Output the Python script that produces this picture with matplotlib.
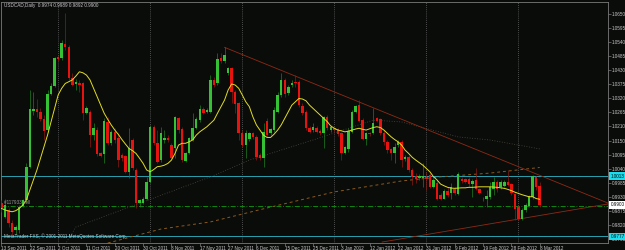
import matplotlib
matplotlib.use("Agg")
import matplotlib.pyplot as plt

plt.rcParams["font.family"] = ["Liberation Sans", "DejaVu Sans"]

# daily USDCAD bars, 13 Sep 2011 .. 8 Mar 2012 (Sunday bars included)
opens = [0.9906, 0.9853, 0.9880, 0.9830, 0.9801, 0.9801, 0.9895, 0.9919, 1.0050, 1.0267,
         1.0277, 1.0266, 1.0236, 1.0194, 1.0336, 1.0367, 1.0482, 1.0476, 1.0532, 1.0522,
         1.0400, 1.0375, 1.0380, 1.0377, 1.0263, 1.0266, 1.0174, 1.0194, 1.0102, 1.0100,
         1.0227, 1.0144, 1.0187, 1.0161, 1.0096, 1.0092, 1.0030, 1.0155, 1.0039, 0.9906,
         0.9908, 0.9925, 0.9991, 1.0207, 1.0142, 1.0076, 1.0155, 1.0164, 1.0135, 1.0122,
         1.0240, 1.0197, 1.0073, 1.0102, 1.0155, 1.0201, 1.0233, 1.0277, 1.0266, 1.0266,
         1.0391, 1.0377, 1.0476, 1.0466, 1.0417, 1.0436, 1.0345, 1.0299, 1.0184, 1.0135,
         1.0157, 1.0181, 1.0168, 1.0096, 1.0083, 1.0231, 1.0181, 1.0194, 1.0266, 1.0332,
         1.0391, 1.0338, 1.0371, 1.0384, 1.0384, 1.0288, 1.0266, 1.0203, 1.0194, 1.0203,
         1.0190, 1.0184, 1.0244, 1.0194, 1.0201, 1.0198, 1.0181, 1.0105, 1.0119, 1.0187,
         1.0266, 1.0292, 1.0233, 1.0157, 1.0181, 1.0181, 1.0240, 1.0236, 1.0181, 1.0148,
         1.0118, 1.0105, 1.0135, 1.0148, 1.0079, 1.0089, 1.0039, 1.0013, 1.0004, 1.0004,
         1.0011, 1.0017, 0.9971, 0.9987, 0.9938, 0.9925, 0.9956, 0.9945, 0.9961, 0.9942,
         1.0002, 1.0000, 1.0000, 0.9982, 0.9998, 0.9961, 0.9922, 0.9923, 0.9932, 0.9961,
         0.9991, 0.9969, 0.9974, 0.9991, 0.9982, 0.9942, 0.9890, 0.9843, 0.9880, 0.9895,
         0.9932, 1.0011, 0.9974]
highs = [0.9919, 0.9925, 0.9886, 0.9840, 0.9821, 0.9899, 0.9925, 1.0063, 1.0351, 1.0345,
         1.0318, 1.0279, 1.0253, 1.0351, 1.0377, 1.0482, 1.0489, 1.0548, 1.0653, 1.0528,
         1.0417, 1.0393, 1.0391, 1.0384, 1.0288, 1.0273, 1.0220, 1.0207, 1.0109, 1.0240,
         1.0246, 1.0194, 1.0201, 1.0181, 1.0102, 1.0096, 1.0201, 1.0161, 1.0043, 0.9925,
         0.9932, 1.0011, 1.0214, 1.0214, 1.0194, 1.0207, 1.0194, 1.0174, 1.0142, 1.0249,
         1.0246, 1.0207, 1.0109, 1.0168, 1.0260, 1.0244, 1.0292, 1.0283, 1.0279, 1.0410,
         1.0404, 1.0495, 1.0495, 1.0519, 1.0443, 1.0443, 1.0351, 1.0305, 1.0194, 1.0194,
         1.0187, 1.0187, 1.0174, 1.0102, 1.0220, 1.0240, 1.0204, 1.0286, 1.0345, 1.0417,
         1.0397, 1.0371, 1.0391, 1.0410, 1.0391, 1.0299, 1.0273, 1.0210, 1.0220, 1.0210,
         1.0197, 1.0249, 1.0253, 1.0214, 1.0207, 1.0204, 1.0187, 1.0131, 1.0201, 1.0273,
         1.0292, 1.0312, 1.0240, 1.0187, 1.0187, 1.0279, 1.0246, 1.0240, 1.0194, 1.0155,
         1.0122, 1.0142, 1.0155, 1.0155, 1.0096, 1.0096, 1.0043, 1.0024, 1.0021, 1.0063,
         1.0030, 1.0024, 1.0004, 0.9998, 0.9945, 0.9961, 0.9971, 0.9985, 0.9969, 1.0030,
         1.0008, 1.0005, 1.0011, 1.0000, 1.0043, 0.9966, 0.9932, 0.9958, 0.9991, 1.0011,
         0.9998, 0.9998, 0.9998, 1.0039, 0.9987, 0.9948, 0.9899, 0.9886, 0.9906, 0.9938,
         1.0017, 1.0013, 0.9989]
lows = [0.9873, 0.9847, 0.9814, 0.9781, 0.9785, 0.9788, 0.9890, 0.9912, 1.0043, 1.0253,
        1.0244, 1.0231, 1.0155, 1.0187, 1.0332, 1.0362, 1.0466, 1.0469, 1.0508, 1.0391,
        1.0367, 1.0351, 1.0345, 1.0233, 1.0257, 1.0129, 1.0155, 1.0092, 1.0089, 1.0063,
        1.0135, 1.0135, 1.0142, 1.0050, 1.0073, 1.0024, 1.0004, 1.0037, 0.9886, 0.9893,
        0.9903, 0.9919, 0.9985, 1.0135, 1.0063, 1.0070, 1.0142, 1.0148, 1.0079, 1.0083,
        1.0181, 1.0070, 1.0070, 1.0100, 1.0152, 1.0197, 1.0227, 1.0257, 1.0260, 1.0260,
        1.0364, 1.0371, 1.0456, 1.0456, 1.0410, 1.0299, 1.0260, 1.0155, 1.0129, 1.0083,
        1.0152, 1.0160, 1.0076, 1.0076, 1.0050, 1.0168, 1.0174, 1.0187, 1.0260, 1.0325,
        1.0325, 1.0332, 1.0364, 1.0364, 1.0286, 1.0253, 1.0194, 1.0181, 1.0187, 1.0181,
        1.0174, 1.0122, 1.0194, 1.0187, 1.0187, 1.0170, 1.0076, 1.0100, 1.0109, 1.0181,
        1.0260, 1.0227, 1.0155, 1.0135, 1.0170, 1.0178, 1.0225, 1.0174, 1.0135, 1.0102,
        1.0076, 1.0063, 1.0129, 1.0050, 1.0073, 1.0030, 0.9978, 0.9985, 0.9998, 0.9971,
        0.9958, 0.9965, 0.9965, 0.9919, 0.9919, 0.9922, 0.9932, 0.9925, 0.9938, 0.9938,
        0.9987, 0.9985, 0.9971, 0.9932, 0.9958, 0.9942, 0.9916, 0.9893, 0.9925, 0.9938,
        0.9952, 0.9964, 0.9969, 0.9974, 0.9938, 0.9840, 0.9840, 0.9840, 0.9873, 0.9893,
        0.9925, 0.9958, 0.9892]
closes = [0.9886, 0.9899, 0.9827, 0.9794, 0.9814, 0.9893, 0.9919, 1.0050, 1.0278, 1.0278,
          1.0265, 1.0236, 1.0190, 1.0336, 1.0367, 1.0476, 1.0472, 1.0535, 1.0519, 1.0397,
          1.0373, 1.0384, 1.0371, 1.0262, 1.0279, 1.0174, 1.0204, 1.0098, 1.0094, 1.0231,
          1.0144, 1.0187, 1.0155, 1.0076, 1.0083, 1.0030, 1.0122, 1.0043, 0.9906, 0.9919,
          0.9922, 0.9991, 1.0207, 1.0142, 1.0070, 1.0181, 1.0161, 1.0155, 1.0083, 1.0244,
          1.0194, 1.0076, 1.0102, 1.0161, 1.0201, 1.0236, 1.0275, 1.0262, 1.0273, 1.0391,
          1.0371, 1.0472, 1.0465, 1.0489, 1.0436, 1.0345, 1.0296, 1.0181, 1.0135, 1.0181,
          1.0181, 1.0165, 1.0089, 1.0083, 1.0187, 1.0174, 1.0198, 1.0273, 1.0332, 1.0391,
          1.0336, 1.0364, 1.0380, 1.0377, 1.0292, 1.0260, 1.0201, 1.0187, 1.0207, 1.0187,
          1.0184, 1.0244, 1.0201, 1.0207, 1.0194, 1.0178, 1.0105, 1.0126, 1.0191, 1.0266,
          1.0288, 1.0231, 1.0157, 1.0181, 1.0177, 1.0220, 1.0231, 1.0181, 1.0148, 1.0115,
          1.0105, 1.0129, 1.0148, 1.0076, 1.0089, 1.0037, 1.0011, 1.0000, 1.0013, 1.0013,
          1.0003, 0.9969, 0.9998, 0.9925, 0.9925, 0.9956, 0.9938, 0.9971, 0.9945, 1.0021,
          0.9994, 0.9991, 0.9982, 0.9995, 0.9961, 0.9948, 0.9925, 0.9935, 0.9969, 0.9991,
          0.9961, 0.9991, 0.9991, 0.9980, 0.9945, 0.9882, 0.9843, 0.9880, 0.9899, 0.9935,
          1.0013, 0.9969, 0.9900]

# yellow moving average, one value per bar
ma_fast = [0.9886, 0.9880, 0.9876, 0.9873, 0.9877, 0.9886, 0.9899, 0.9919, 0.9958, 0.9998,
           1.0037, 1.0083, 1.0129, 1.0174, 1.0227, 1.0279, 1.0332, 1.0358, 1.0377, 1.0384,
           1.0391, 1.0406, 1.0423, 1.0419, 1.0410, 1.0391, 1.0358, 1.0325, 1.0292, 1.0260,
           1.0236, 1.0214, 1.0194, 1.0177, 1.0157, 1.0139, 1.0122, 1.0113, 1.0102, 1.0083,
           1.0063, 1.0037, 1.0030, 1.0039, 1.0050, 1.0052, 1.0056, 1.0063, 1.0076, 1.0102,
           1.0135, 1.0142, 1.0142, 1.0148, 1.0155, 1.0174, 1.0187, 1.0197, 1.0207, 1.0220,
           1.0233, 1.0260, 1.0286, 1.0312, 1.0351, 1.0375, 1.0371, 1.0358, 1.0332, 1.0305,
           1.0286, 1.0246, 1.0214, 1.0194, 1.0174, 1.0165, 1.0165, 1.0178, 1.0194, 1.0214,
           1.0240, 1.0266, 1.0292, 1.0305, 1.0318, 1.0316, 1.0309, 1.0292, 1.0279, 1.0266,
           1.0253, 1.0240, 1.0227, 1.0210, 1.0201, 1.0194, 1.0191, 1.0187, 1.0190, 1.0194,
           1.0198, 1.0201, 1.0197, 1.0194, 1.0199, 1.0204, 1.0207, 1.0204, 1.0194, 1.0181,
           1.0168, 1.0157, 1.0148, 1.0135, 1.0115, 1.0102, 1.0087, 1.0076, 1.0066, 1.0056,
           1.0043, 1.0030, 1.0011, 0.9998, 0.9982, 0.9975, 0.9969, 0.9966, 0.9965, 0.9966,
           0.9967, 0.9967, 0.9969, 0.9969, 0.9970, 0.9971, 0.9971, 0.9971, 0.9971, 0.9970,
           0.9969, 0.9967, 0.9965, 0.9961, 0.9956, 0.9950, 0.9945, 0.9940, 0.9936, 0.9932,
           0.9932, 0.9925, 0.9922]

# slower averages, read at a few bars
ma_dotted_bars = [18, 21, 59, 70, 88, 105, 113, 129, 138, 152]
ma_dotted_vals = [0.9745, 0.9813, 1.0010, 1.0076, 1.0155, 1.0233, 1.0226, 1.0167, 1.0155, 1.0120]
ma_dashed_bars = [30, 45, 59, 75, 94, 113, 124, 138, 152]
ma_dashed_vals = [0.9750, 0.9805, 0.9833, 0.9888, 0.9951, 0.9994, 1.0010, 1.0025, 1.0047]

# drawn objects
trend_upper = ([63, 171.5], [1.0519, 0.9906])
trend_lower = ([107.5, 171.5], [0.9754, 0.9904])
level_high = 1.0013
level_low = 0.9777
order_price = 0.9897
bid_price = 0.9900

date_bars = list(range(0, 153, 8))
date_labels = ["13 Sep 2011", "22 Sep 2011", "2 Oct 2011", "11 Oct 2011", "20 Oct 2011",
               "30 Oct 2011", "8 Nov 2011", "17 Nov 2011", "27 Nov 2011", "6 Dec 2011",
               "15 Dec 2011", "25 Dec 2011", "3 Jan 2012", "12 Jan 2012", "22 Jan 2012",
               "31 Jan 2012", "9 Feb 2012", "19 Feb 2012", "28 Feb 2012", "8 Mar 2012"]
month_bars = [16, 42, 68, 94, 120, 146]
price_ticks = [1.0650, 1.0595, 1.0540, 1.0485, 1.0430, 1.0375, 1.0320, 1.0265, 1.0210,
               1.0150, 1.0095, 1.0040, 0.9985, 0.9930, 0.9875, 0.9820, 0.9765]

BG = "#0a0c0a"
TXT = "#c8c8c8"
FS = 3.3

fig = plt.figure(figsize=(6.25, 2.5), dpi=100, facecolor=BG)
ax = fig.add_axes([1.5 / 625, 7.5 / 250, 606.5 / 625, 240.5 / 250])
ax.set_facecolor(BG)
ax.set_xlim(0, 171.3)
ax.set_ylim(0.97522, 1.06972)

for xb in month_bars:
    ax.axvline(xb, color="#8a8a8a", lw=0.5, ls=(0, (1, 2)), zorder=1)

ax.axhline(level_high + 0.0001, color="#8c5a1e", lw=0.6, ls=(0, (3, 4)), zorder=2)
ax.axhline(level_low + 0.0001, color="#8c5a1e", lw=0.6, ls=(0, (3, 4)), zorder=2)
ax.axhline(level_high, color="#2a9fb0", lw=0.7, zorder=2)
ax.axhline(level_low, color="#2a9fb0", lw=0.7, zorder=2)
ax.axhline(order_price, color="#119a11", lw=0.6, ls=(0, (6, 2, 1, 2)), zorder=2)

ax.plot(ma_dotted_bars, ma_dotted_vals, color="#4a4a40", lw=0.6, ls=(0, (1, 2)), zorder=2)
ax.plot(ma_dashed_bars, ma_dashed_vals, color="#8c5a1e", lw=0.7, ls=(0, (3, 3)), zorder=2)
ax.plot(trend_upper[0], trend_upper[1], color="#8e2a14", lw=0.6, zorder=2)
ax.plot(trend_lower[0], trend_lower[1], color="#8e2a14", lw=0.6, zorder=2)

x = list(range(len(opens)))
up_col, dn_col = "#34c234", "#e8120e"
for i in x:
    o, h, l, c = opens[i], highs[i], lows[i], closes[i]
    wick = "#1f7d1f" if c >= o else "#8b1a12"
    ax.vlines(i, l, h, color=wick, lw=0.5, zorder=3)
for i in x:
    o, c = opens[i], closes[i]
    col = up_col if c >= o else dn_col
    ax.bar(i, max(abs(c - o), 0.00012), bottom=min(o, c), width=0.7, color=col, lw=0, zorder=4)

ax.plot(x, ma_fast, color="#e2dc22", lw=0.7, zorder=5)

# axes look
for s in ax.spines.values():
    s.set_color("#7a7a7a")
    s.set_linewidth(0.6)
ax.yaxis.tick_right()
ax.set_yticks(price_ticks)
ax.set_yticklabels([f"{v:.4f}" for v in price_ticks])
ax.tick_params(axis="y", colors="#7a7a7a", labelcolor=TXT, labelsize=FS, length=2, width=0.5, pad=1)
ax.set_xticks(date_bars)
ax.set_xticklabels(date_labels)
ax.tick_params(axis="x", colors="#7a7a7a", labelcolor=TXT, labelsize=FS, length=2, width=0.5, pad=0.5)
plt.setp(ax.get_xticklabels(), ha="left")

ytr = ax.get_yaxis_transform()
for val, fc in [(level_high, "#19e0f0"), (level_low, "#19e0f0"), (bid_price, "#ffffff")]:
    ax.text(1.004, val, f"{val:.4f}", transform=ytr, fontsize=FS, color="#000000",
            ha="left", va="center", zorder=6, clip_on=False,
            bbox=dict(boxstyle="square,pad=0.25", fc=fc, ec="none"))

fig.text(4 / 625, 1 - 5.5 / 250, "USDCAD,Daily  0.9974 0.9989 0.9892 0.9900",
         fontsize=FS, color=TXT, va="center", ha="left")
fig.text(4 / 625, 1 - 203 / 250, "#117933 sell", fontsize=FS, color="#9a9a9a", va="center", ha="left")
fig.text(4 / 625, 1 - 236.5 / 250, "MetaTrader FXS, \u00a9 2001-2011 MetaQuotes Software Corp.",
         fontsize=FS, color=TXT, va="center", ha="left")

fig.savefig("out.png", dpi=100, facecolor=BG)
plt.close(fig)
